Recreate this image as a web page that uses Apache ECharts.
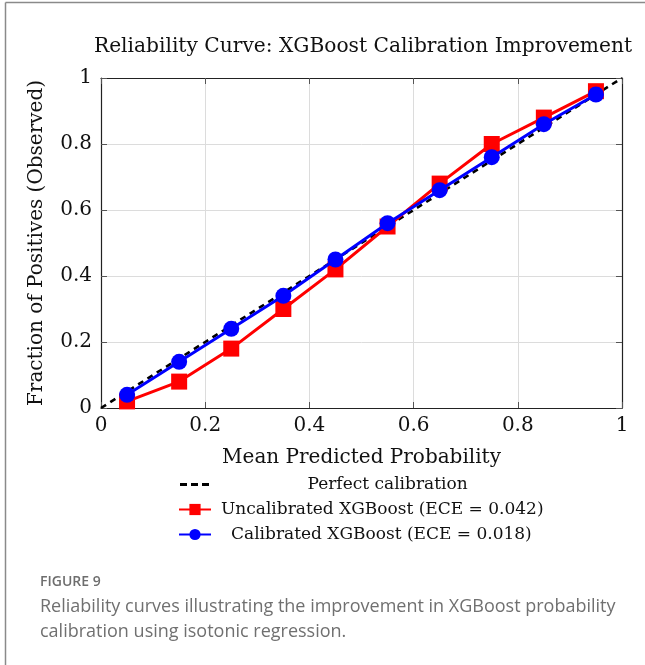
<!DOCTYPE html>
<html>
<head>
<meta charset="utf-8">
<script src="https://cdn.jsdelivr.net/npm/echarts@6/dist/echarts.min.js"></script>
<style>
  html, body { margin: 0; padding: 0; background: #fff; }
  #chart { width: 645px; height: 665px; }
</style>
</head>
<body>
<div id="chart"></div>
<script>
// Reliability curve data: bin centres and observed positive fraction per bin
const binCenters = [0.05, 0.15, 0.25, 0.35, 0.45, 0.55, 0.65, 0.75, 0.85, 0.95];
const uncalibrated = [0.02, 0.08, 0.18, 0.30, 0.42, 0.55, 0.68, 0.80, 0.88, 0.96];
const calibrated = [0.04, 0.14, 0.24, 0.34, 0.45, 0.56, 0.66, 0.76, 0.86, 0.95];
const perfectLine = [[0, 0], [1, 1]];
const tickValues = [0, 0.2, 0.4, 0.6, 0.8, 1];
const tickLabels = ['0', '0.2', '0.4', '0.6', '0.8', '1'];
const seriesNames = ['Perfect calibration', 'Uncalibrated XGBoost (ECE = 0.042)', 'Calibrated XGBoost (ECE = 0.018)'];

const SERIF = '"DejaVu Serif", "Liberation Serif", serif';
const SANS = '"Open Sans", sans-serif';
const pair = (xs, ys) => xs.map((x, i) => [x, ys[i]]);
const tickFmt = v => {
  const i = tickValues.findIndex(t => Math.abs(t - v) < 1e-9);
  return i >= 0 ? tickLabels[i] : '';
};

const gridBox = { left: 101, right: 23, top: 78, height: 330 };

const baseAxis = {
  type: 'value', min: 0, max: 1, interval: 0.2,
  axisLine: { show: true, onZero: false, lineStyle: { color: '#222', width: 1.2 } },
  axisTick: { show: true, inside: true, length: 6, lineStyle: { color: '#555', width: 1 } },
  splitLine: { show: false },
  axisLabel: { show: false }
};

const chart = echarts.init(document.getElementById('chart'), null, { renderer: 'canvas' });

const legendText = pad => ({ fontFamily: SERIF, fontSize: 17, color: '#111', padding: [0, 0, 0, pad] });
const legendCommon = { orient: 'horizontal', left: 173, itemWidth: 32, itemHeight: 14, itemGap: 0 };
// three short dashes for the reference diagonal's legend key
const dashIcon = 'path://M0,0h7v3H0zM11,0h7v3h-7zM22,0h7v3h-7z';

chart.setOption({
  animation: false,
  backgroundColor: '#fff',
  title: {
    text: 'Reliability Curve: XGBoost Calibration Improvement',
    left: 358, top: 32, textAlign: 'center',
    textStyle: { fontFamily: SERIF, fontSize: 20.2, fontWeight: 'normal', color: '#111' }
  },
  grid: gridBox,
  xAxis: [
    Object.assign({}, baseAxis, {
      position: 'bottom',
      name: 'Mean Predicted Probability', nameLocation: 'middle', nameGap: 40,
      nameTextStyle: { fontFamily: SERIF, fontSize: 20, color: '#111' },
      splitLine: { show: true, lineStyle: { color: '#dcdcdc', width: 1 } },
      axisLabel: { show: true, formatter: tickFmt, margin: 8, fontFamily: SERIF, fontSize: 20, color: '#111' }
    }),
    Object.assign({}, baseAxis, { position: 'top' })
  ],
  yAxis: [
    Object.assign({}, baseAxis, {
      position: 'left',
      name: 'Fraction of Positives (Observed)', nameLocation: 'middle', nameGap: 54,
      nameTextStyle: { fontFamily: SERIF, fontSize: 20, color: '#111' },
      splitLine: { show: true, lineStyle: { color: '#dcdcdc', width: 1 } },
      axisLabel: { show: true, formatter: tickFmt, margin: 9, fontFamily: SERIF, fontSize: 20, color: '#111' }
    }),
    Object.assign({}, baseAxis, { position: 'right' })
  ],
  legend: [
    Object.assign({}, legendCommon, {
      top: 471, left: 175, itemWidth: 30, itemHeight: 3, icon: dashIcon,
      data: [seriesNames[0]], textStyle: legendText(93)
    }),
    Object.assign({}, legendCommon, { top: 496, data: [seriesNames[1]], textStyle: legendText(5) }),
    Object.assign({}, legendCommon, { top: 521, data: [seriesNames[2]], textStyle: legendText(15) })
  ],
  series: [
    {
      name: seriesNames[0], type: 'line', data: perfectLine, symbol: 'none', z: 3,
      lineStyle: { color: '#000', width: 2.6, type: [6, 5] },
      itemStyle: { color: '#000' }
    },
    {
      name: seriesNames[1], type: 'line', data: pair(binCenters, uncalibrated),
      symbol: 'rect', symbolSize: 16, z: 4,
      lineStyle: { color: '#ff0000', width: 3 },
      itemStyle: { color: '#ff0000' }
    },
    {
      name: seriesNames[2], type: 'line', data: pair(binCenters, calibrated),
      symbol: 'circle', symbolSize: 16, z: 5,
      lineStyle: { color: '#0000ff', width: 3 },
      itemStyle: { color: '#0000ff' }
    }
  ],
  graphic: [
    { type: 'line', shape: { x1: 5.5, y1: 2.5, x2: 5.5, y2: 665 }, style: { stroke: '#8a8a8a', lineWidth: 1.5 } },
    { type: 'line', shape: { x1: 5.5, y1: 2.5, x2: 645, y2: 2.5 }, style: { stroke: '#8a8a8a', lineWidth: 1.5 } },
    { type: 'text', x: 40, y: 582, style: { text: 'FIGURE 9', font: '600 14px ' + SANS, fill: '#6e6e6e', verticalAlign: 'middle' } },
    { type: 'text', x: 40, y: 607, style: { text: 'Reliability curves illustrating the improvement in XGBoost probability', font: '18px ' + SANS, fill: '#707070', verticalAlign: 'middle' } },
    { type: 'text', x: 40, y: 632, style: { text: 'calibration using isotonic regression.', font: '18px ' + SANS, fill: '#707070', verticalAlign: 'middle' } }
  ]
});
</script>
</body>
</html>
